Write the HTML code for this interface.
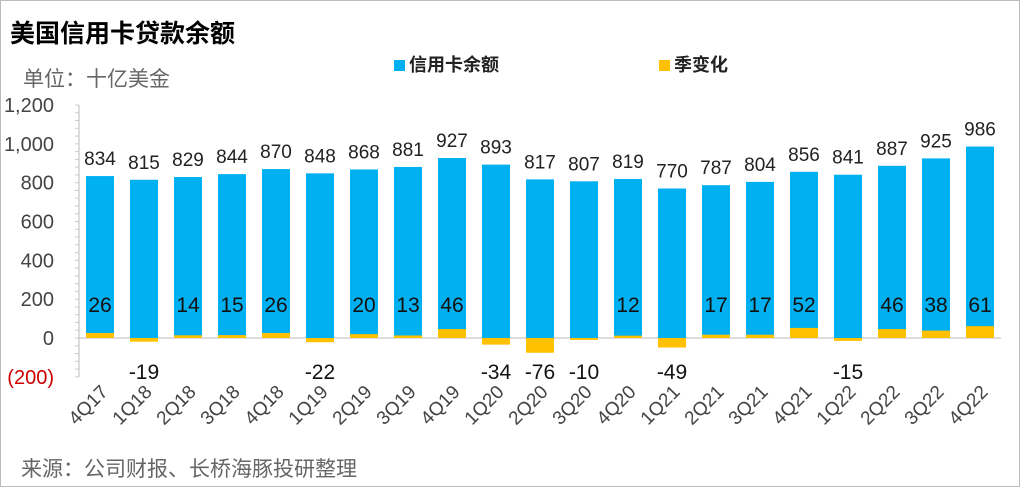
<!DOCTYPE html>
<html><head><meta charset="utf-8">
<style>
body{margin:0;background:#fff;}
#wrap{position:relative;width:1018px;height:485px;border:1px solid #bbb;font-family:"Liberation Sans","Noto Sans CJK SC",sans-serif;overflow:hidden;}
.t{position:absolute;white-space:nowrap;}
</style></head><body>
<div id="wrap">
<div class="t" style="left:9px;top:13px;font-size:25px;font-weight:bold;color:#000">美国信用卡贷款余额</div>
<div class="t" style="left:22px;top:62px;font-size:21px;color:#666">单位：十亿美金</div>
<div class="t" style="left:393px;top:50px;font-size:18px;font-weight:bold;color:#222"><span style="display:inline-block;width:11px;height:11px;background:#00B0F0;margin-right:4px"></span>信用卡余额</div>
<div class="t" style="left:658px;top:50px;font-size:18px;font-weight:bold;color:#222"><span style="display:inline-block;width:11px;height:11px;background:#FFC000;margin-right:4px"></span>季变化</div>
<div class="t" style="left:20px;top:452px;font-size:21px;color:#666">来源：公司财报、长桥海豚投研整理</div>
<svg id="svg" width="1018" height="485" style="position:absolute;left:0;top:0"></svg>
</div>
<script>
const categories=["4Q17","1Q18","2Q18","3Q18","4Q18","1Q19","2Q19","3Q19","4Q19","1Q20","2Q20","3Q20","4Q20","1Q21","2Q21","3Q21","4Q21","1Q22","2Q22","3Q22","4Q22"];
const balance=[834,815,829,844,870,848,868,881,927,893,817,807,819,770,787,804,856,841,887,925,986];
const change=[26,-19,14,15,26,-22,20,13,46,-34,-76,-10,12,-49,17,17,52,-15,46,38,61];
const yTicks=[-200,0,200,400,600,800,1000,1200];
const yTickLabels=["(200)","0","200","400","600","800","1,000","1,200"];
const svg=document.getElementById('svg');const NS='http://www.w3.org/2000/svg';
function y(v){return 337-v*(233/1200);}
function x(i){return 99+i*44;}
function mk(tag,a,txt){const e=document.createElementNS(NS,tag);for(const k in a)e.setAttribute(k,a[k]);if(txt!==undefined)e.textContent=txt;svg.appendChild(e);return e;}
let ax=mk('line',{x1:78,x2:78,y1:y(1200),y2:y(-200),stroke:'#bbb'});

for(let v=-200;v<=1200;v+=40){mk('line',{x1:74,x2:78,y1:y(v),y2:y(v),stroke:'#ccc'});}
yTicks.forEach((v,k)=>{const t=mk('text',{x:53,y:y(v)+7,'text-anchor':'end','font-size':20,fill:v<0?'#c00':'#444'},yTickLabels[k]);
});
const zl=mk('line',{x1:78,x2:1000,y1:y(0),y2:y(0),stroke:'#bbb'});

categories.forEach((c,i)=>{
 const cx=x(i);
 const b=mk('rect',{x:cx-14,y:y(balance[i]),width:28,height:y(0)-y(balance[i]),fill:'#00B0F0'});
 
 const v=change[i];
 const r=mk('rect',{x:cx-14,y:Math.min(y(v),y(0)),width:28,height:Math.abs(y(v)-y(0)),fill:'#FFC000'});
 
 const l=mk('text',{x:cx,y:y(balance[i])-11,'text-anchor':'middle','font-size':19,fill:'#222'},balance[i]);
 
 const cl=mk('text',{x:cx,y:v>=0?311:378,'text-anchor':'middle','font-size':21,fill:'#111'},v);
 
 const xl=mk('text',{x:cx+9,y:392,'text-anchor':'end','font-size':19,fill:'#444',transform:`rotate(-45 ${cx+9} 392)`},c);
 
});
</script>
</body></html>
